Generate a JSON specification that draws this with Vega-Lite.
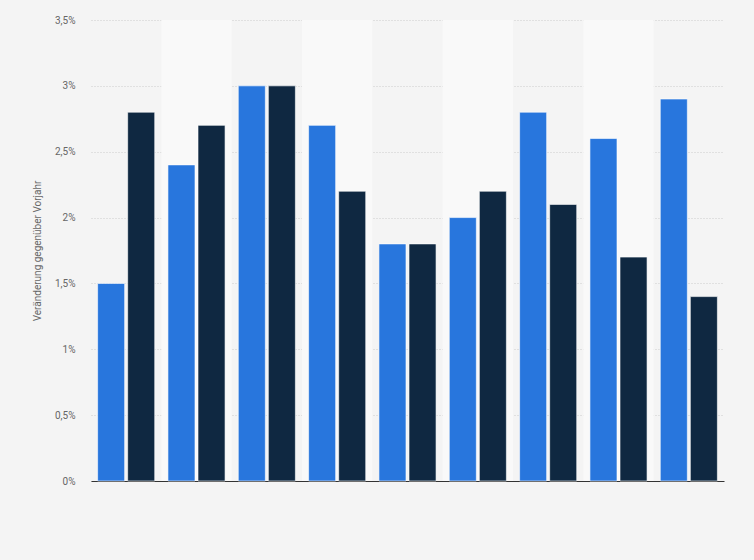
{
  "$schema": "https://vega.github.io/schema/vega-lite/v6.json",
  "width": 633,
  "height": 461,
  "autosize": "none",
  "padding": {"left": 91, "top": 20, "right": 30, "bottom": 79},
  "background": "#f4f4f4",
  "config": {
    "view": {"stroke": null},
    "font": "Roboto",
    "axis": {"labelColor": "#666666", "labelFontSize": 10, "titleColor": "#666666", "titleFontWeight": "normal", "titleFontSize": 10}
  },
  "datasets": {
    "bands": [
      {"group": "1", "stripe": false},
      {"group": "2", "stripe": true},
      {"group": "3", "stripe": false},
      {"group": "4", "stripe": true},
      {"group": "5", "stripe": false},
      {"group": "6", "stripe": true},
      {"group": "7", "stripe": false},
      {"group": "8", "stripe": true},
      {"group": "9", "stripe": false}
    ],
    "rates": [
      {"group": "1", "series": "A", "value": 1.5},
      {"group": "1", "series": "B", "value": 2.8},
      {"group": "2", "series": "A", "value": 2.4},
      {"group": "2", "series": "B", "value": 2.7},
      {"group": "3", "series": "A", "value": 3.0},
      {"group": "3", "series": "B", "value": 3.0},
      {"group": "4", "series": "A", "value": 2.7},
      {"group": "4", "series": "B", "value": 2.2},
      {"group": "5", "series": "A", "value": 1.8},
      {"group": "5", "series": "B", "value": 1.8},
      {"group": "6", "series": "A", "value": 2.0},
      {"group": "6", "series": "B", "value": 2.2},
      {"group": "7", "series": "A", "value": 2.8},
      {"group": "7", "series": "B", "value": 2.1},
      {"group": "8", "series": "A", "value": 2.6},
      {"group": "8", "series": "B", "value": 1.7},
      {"group": "9", "series": "A", "value": 2.9},
      {"group": "9", "series": "B", "value": 1.4}
    ]
  },
  "layer": [
    {
      "data": {"name": "bands"},
      "transform": [{"filter": "datum.stripe"}],
      "mark": {"type": "bar", "color": "#f9f9f9"},
      "encoding": {
        "x": {"field": "group", "type": "nominal", "scale": {"paddingInner": 0, "paddingOuter": 0}},
        "y": {"datum": 3.5, "type": "quantitative"},
        "y2": {"datum": 0}
      }
    },
    {
      "data": {"name": "rates"},
      "mark": {"type": "bar", "stroke": "#ffffff", "strokeWidth": 1, "strokeOpacity": 0.6},
      "encoding": {
        "x": {
          "field": "group",
          "type": "nominal",
          "axis": {"labels": false, "ticks": false, "title": null, "domain": true, "domainColor": "#333333", "domainWidth": 1, "grid": false}
        },
        "xOffset": {"field": "series", "scale": {"paddingInner": 0.1, "paddingOuter": 0.22}},
        "y": {
          "field": "value",
          "type": "quantitative",
          "scale": {"domain": [0, 3.5]},
          "axis": {
            "title": "Veränderung gegenüber Vorjahr",
            "titlePadding": 12,
            "values": [0, 0.5, 1, 1.5, 2, 2.5, 3, 3.5],
            "labelExpr": "replace(format(datum.value, '.1~f'), '.', ',') + '%'",
            "labelPadding": 16,
            "ticks": false,
            "domain": false,
            "grid": true,
            "gridColor": "#cccccc",
            "gridDash": [1, 2]
          }
        },
        "color": {
          "field": "series",
          "type": "nominal",
          "scale": {"range": ["#2876dd", "#0f2841"]},
          "legend": null
        }
      }
    }
  ]
}
